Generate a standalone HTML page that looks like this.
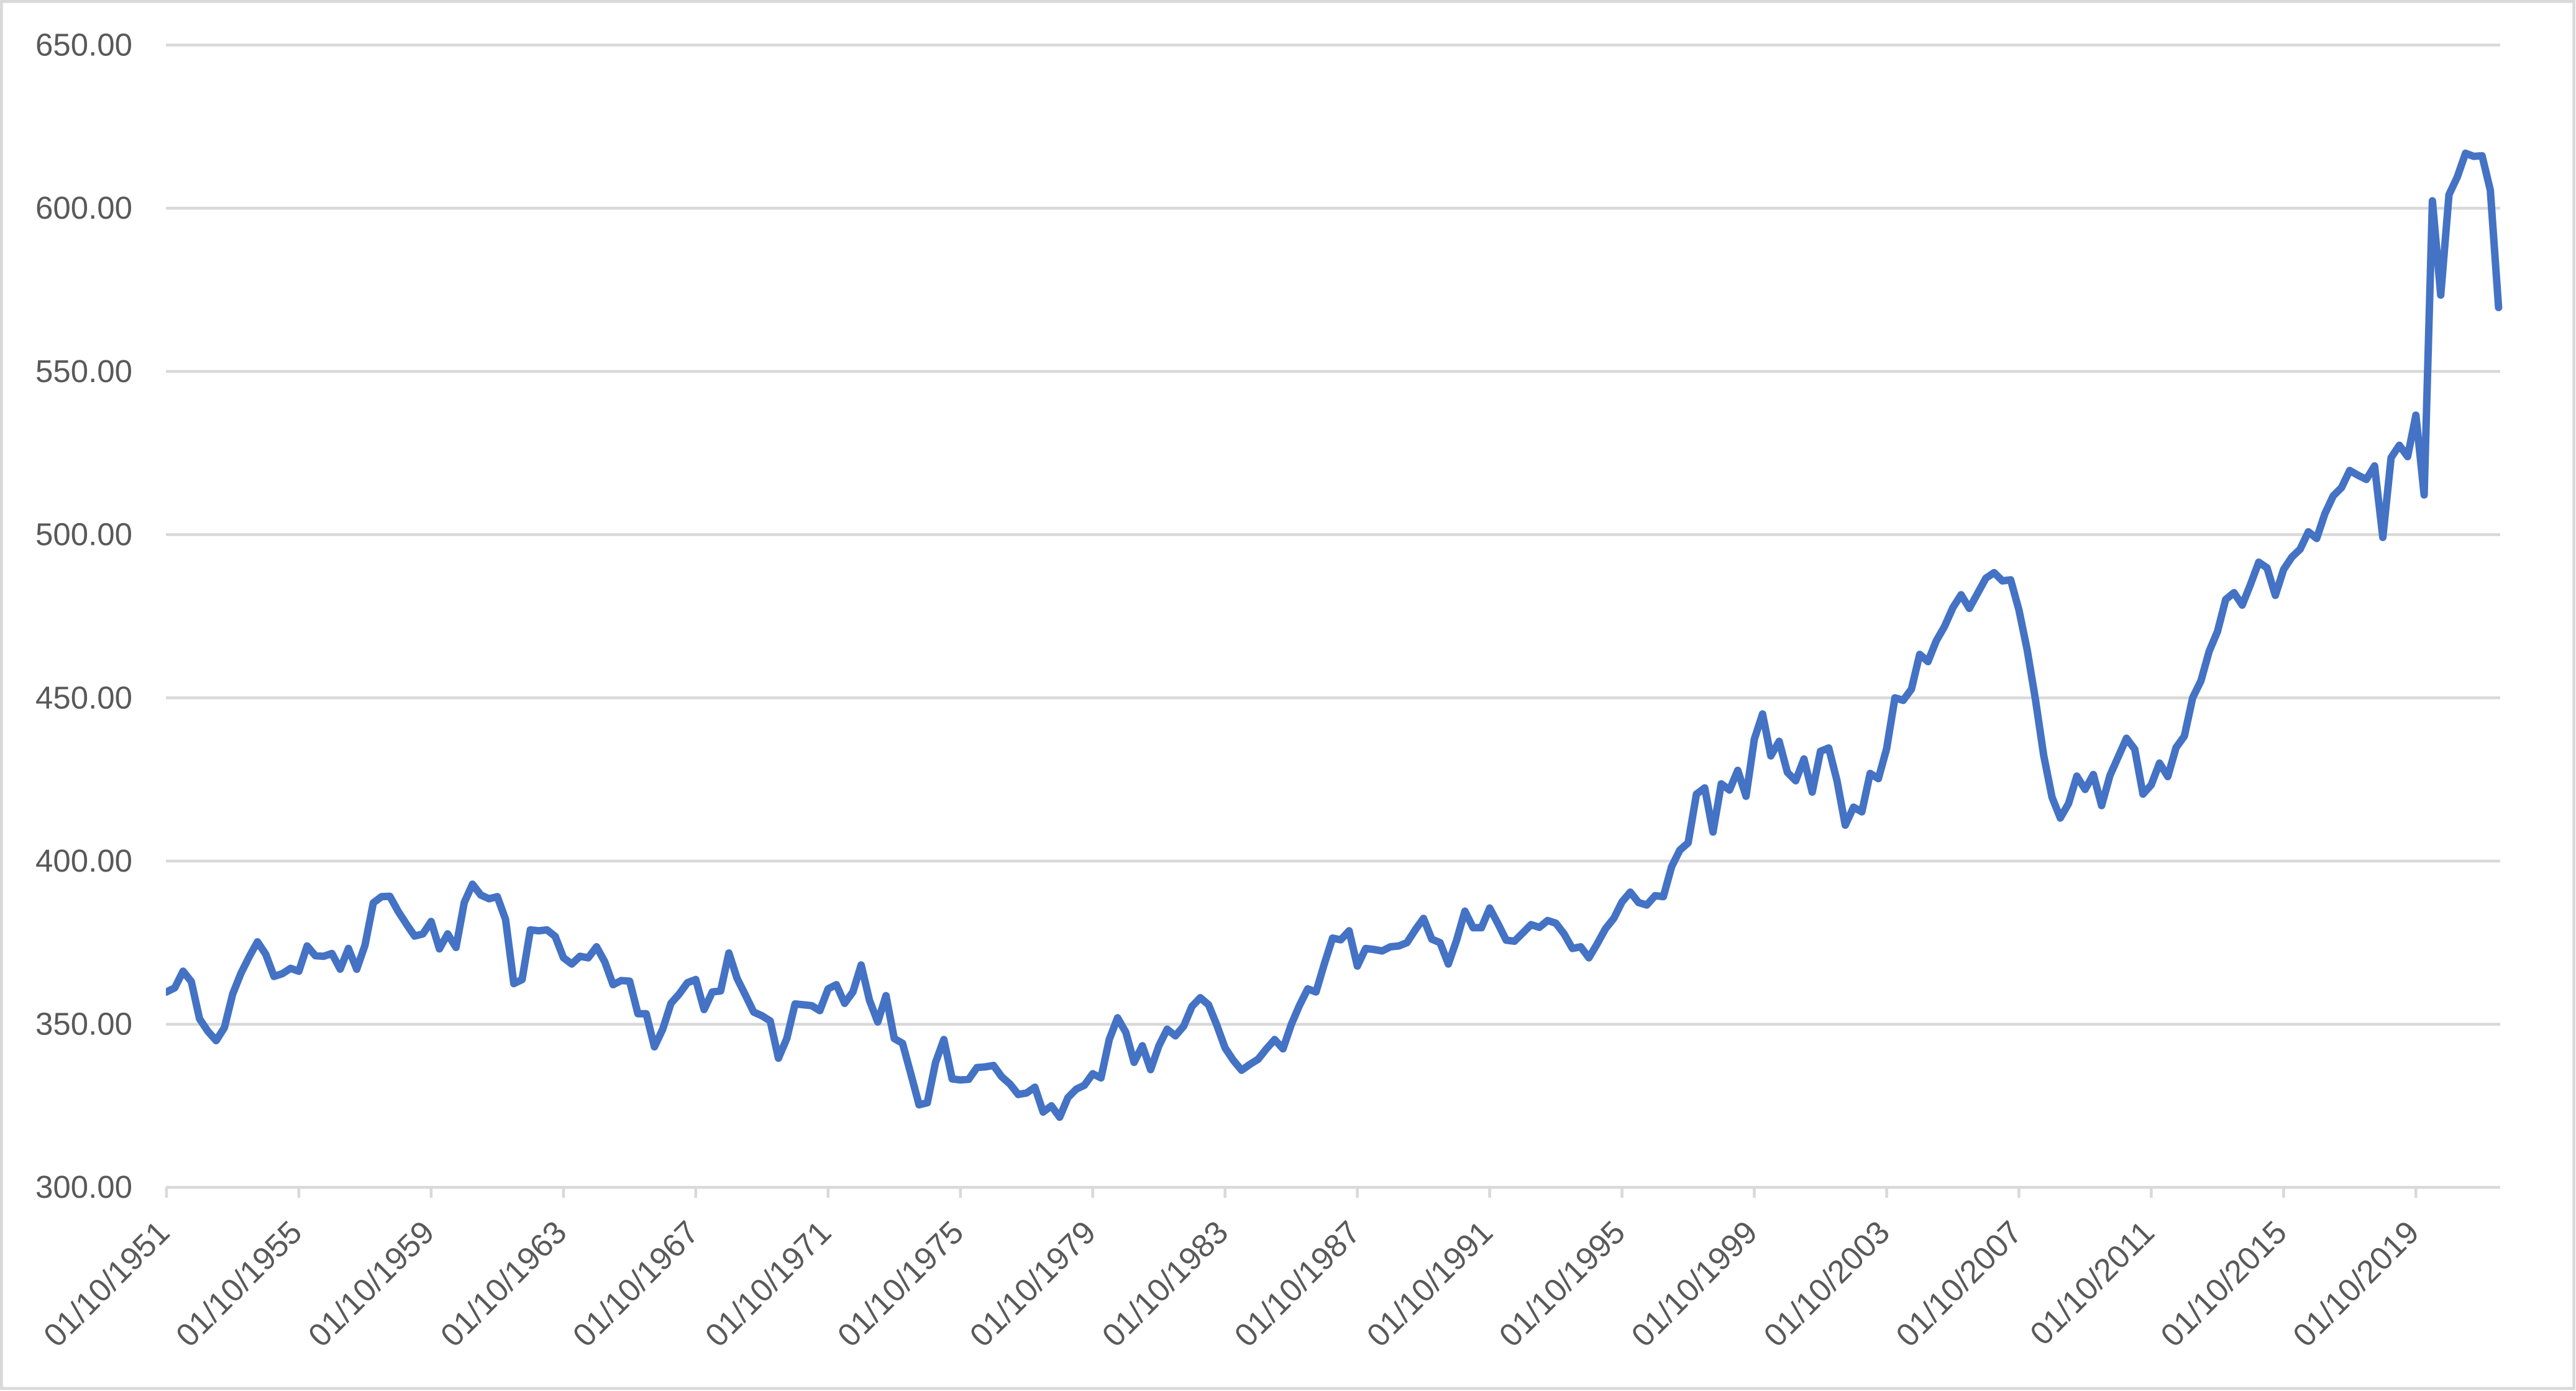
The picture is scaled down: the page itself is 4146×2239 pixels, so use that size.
<!DOCTYPE html>
<html>
<head>
<meta charset="utf-8">
<style>
html,body{margin:0;padding:0;background:#fff;}
svg{display:block;}
text{font-family:"Liberation Sans",Arial,sans-serif;fill:#595959;}
</style>
</head>
<body>
<svg width="4146" height="2239" viewBox="0 0 4146 2239" xmlns="http://www.w3.org/2000/svg">
<rect x="0" y="0" width="4146" height="2239" fill="#ffffff"/>
<rect x="2.35" y="2.35" width="4140.3" height="2232.6" fill="none" stroke="#d9d9d9" stroke-width="4.7"/>
<defs>
<clipPath id="pc"><rect x="267" y="0" width="3800" height="2239"/></clipPath>
</defs>
<g stroke="#d9d9d9" stroke-width="4.6" fill="none">
<line x1="267" y1="72.5" x2="4024" y2="72.5"/>
<line x1="267" y1="335.2" x2="4024" y2="335.2"/>
<line x1="267" y1="597.9" x2="4024" y2="597.9"/>
<line x1="267" y1="860.6" x2="4024" y2="860.6"/>
<line x1="267" y1="1123.3" x2="4024" y2="1123.3"/>
<line x1="267" y1="1386" x2="4024" y2="1386"/>
<line x1="267" y1="1648.7" x2="4024" y2="1648.7"/>
<line x1="267" y1="1911.2" x2="4024" y2="1911.2"/>
</g>
<g stroke="#d9d9d9" stroke-width="4.6">
<line x1="268" y1="1911" x2="268" y2="1928"/>
<line x1="481" y1="1911" x2="481" y2="1928"/>
<line x1="693.9" y1="1911" x2="693.9" y2="1928"/>
<line x1="906.9" y1="1911" x2="906.9" y2="1928"/>
<line x1="1119.8" y1="1911" x2="1119.8" y2="1928"/>
<line x1="1332.8" y1="1911" x2="1332.8" y2="1928"/>
<line x1="1545.8" y1="1911" x2="1545.8" y2="1928"/>
<line x1="1758.7" y1="1911" x2="1758.7" y2="1928"/>
<line x1="1971.7" y1="1911" x2="1971.7" y2="1928"/>
<line x1="2184.6" y1="1911" x2="2184.6" y2="1928"/>
<line x1="2397.6" y1="1911" x2="2397.6" y2="1928"/>
<line x1="2610.6" y1="1911" x2="2610.6" y2="1928"/>
<line x1="2823.5" y1="1911" x2="2823.5" y2="1928"/>
<line x1="3036.5" y1="1911" x2="3036.5" y2="1928"/>
<line x1="3249.4" y1="1911" x2="3249.4" y2="1928"/>
<line x1="3462.4" y1="1911" x2="3462.4" y2="1928"/>
<line x1="3675.4" y1="1911" x2="3675.4" y2="1928"/>
<line x1="3888.3" y1="1911" x2="3888.3" y2="1928"/>
</g>
<g font-size="51" text-anchor="end">
<text x="213" y="89.5">650.00</text>
<text x="213" y="352.2">600.00</text>
<text x="213" y="614.9">550.00</text>
<text x="213" y="877.6">500.00</text>
<text x="213" y="1140.3">450.00</text>
<text x="213" y="1403">400.00</text>
<text x="213" y="1665.7">350.00</text>
<text x="213" y="1928.2">300.00</text>
</g>
<g font-size="52" text-anchor="end">
<text transform="translate(276,1987) rotate(-45)">01/10/1951</text>
<text transform="translate(489,1987) rotate(-45)">01/10/1955</text>
<text transform="translate(701.9,1987) rotate(-45)">01/10/1959</text>
<text transform="translate(914.9,1987) rotate(-45)">01/10/1963</text>
<text transform="translate(1127.8,1987) rotate(-45)">01/10/1967</text>
<text transform="translate(1340.8,1987) rotate(-45)">01/10/1971</text>
<text transform="translate(1553.8,1987) rotate(-45)">01/10/1975</text>
<text transform="translate(1766.7,1987) rotate(-45)">01/10/1979</text>
<text transform="translate(1979.7,1987) rotate(-45)">01/10/1983</text>
<text transform="translate(2192.6,1987) rotate(-45)">01/10/1987</text>
<text transform="translate(2405.6,1987) rotate(-45)">01/10/1991</text>
<text transform="translate(2618.6,1987) rotate(-45)">01/10/1995</text>
<text transform="translate(2831.5,1987) rotate(-45)">01/10/1999</text>
<text transform="translate(3044.5,1987) rotate(-45)">01/10/2003</text>
<text transform="translate(3257.4,1987) rotate(-45)">01/10/2007</text>
<text transform="translate(3470.4,1987) rotate(-45)">01/10/2011</text>
<text transform="translate(3683.4,1987) rotate(-45)">01/10/2015</text>
<text transform="translate(3896.3,1987) rotate(-45)">01/10/2019</text>
</g>
<polyline clip-path="url(#pc)" fill="none" stroke="#4472c4" stroke-width="12" stroke-linejoin="round" stroke-linecap="round" points="
268,1596.7 281.3,1590 294.6,1563.3 307.9,1580 321.2,1640 334.6,1660 347.9,1675 361.2,1654 374.5,1600 387.8,1566.7
401.1,1540 414.4,1516 427.7,1536 441,1571.7 454.3,1567.3 467.7,1558.7 481,1563.3 494.3,1522.7 507.6,1538.3 520.9,1539.3
534.2,1534.7 547.5,1560 560.8,1526.7 574.1,1560 587.4,1521.7 600.8,1453.3 614.1,1443.3 627.4,1442.7 640.7,1466.7 654,1487.3
667.3,1506.7 680.6,1503.3 693.9,1483.3 707.2,1527.3 720.5,1503.3 733.9,1525 747.2,1452.7 760.5,1423.3 773.8,1440.7 787.1,1446.7
800.4,1443.3 813.7,1480 827,1583.3 840.3,1576.7 853.6,1496.7 867,1498.3 880.3,1496.7 893.6,1507.3 906.9,1541.7 920.2,1551.7
933.5,1539.3 946.8,1541.7 960.1,1524 973.4,1548.3 986.7,1585 1000.1,1578.3 1013.4,1579.3 1026.7,1631.7 1040,1631.7 1053.3,1685
1066.6,1656.7 1079.9,1615 1093.2,1600 1106.5,1581.7 1119.8,1576.7 1133.2,1625 1146.5,1596.7 1159.8,1595 1173.1,1534 1186.4,1575
1199.7,1601.7 1213,1629 1226.3,1635 1239.6,1643.3 1252.9,1703.3 1266.3,1671.7 1279.6,1616 1292.9,1617.3 1306.2,1618.7 1319.5,1626.7
1332.8,1591.7 1346.1,1585 1359.4,1615 1372.7,1596.7 1386,1553.3 1399.4,1610 1412.7,1645 1426,1602.7 1439.3,1671.7 1452.6,1679.3
1465.9,1728.3 1479.2,1778.3 1492.5,1775 1505.8,1710 1519.1,1673.3 1532.5,1736.7 1545.8,1738.3 1559.1,1737.3 1572.4,1718.3 1585.7,1717.3
1599,1715 1612.3,1733.3 1625.6,1745 1638.9,1761.7 1652.2,1759.3 1665.6,1750 1678.9,1790 1692.2,1780 1705.5,1798.3 1718.8,1766.7
1732.1,1753.3 1745.4,1746.7 1758.7,1728.3 1772,1735 1785.3,1673.3 1798.7,1638.3 1812,1661.7 1825.3,1710 1838.6,1683.3 1851.9,1721.7
1865.2,1683.3 1878.5,1656.7 1891.8,1667.3 1905.1,1651.7 1918.4,1620 1931.8,1606 1945.1,1617.3 1958.4,1650 1971.7,1686.7 1985,1706.7
1998.3,1722.7 2011.6,1713.3 2024.9,1705 2038.2,1688.3 2051.5,1673.3 2064.9,1688.3 2078.2,1649.3 2091.5,1618.3 2104.8,1591.7 2118.1,1596.7
2131.4,1551.7 2144.7,1510 2158,1512.7 2171.3,1498.3 2184.6,1555 2198,1526.7 2211.3,1528.3 2224.6,1530.7 2237.9,1524 2251.2,1522.7
2264.5,1517.3 2277.8,1496.7 2291.1,1478.3 2304.4,1511.7 2317.7,1517.3 2331.1,1551.7 2344.4,1513.3 2357.7,1466.7 2371,1493.3 2384.3,1493.3
2397.6,1461.7 2410.9,1486.7 2424.2,1513.3 2437.5,1515 2450.8,1501.7 2464.2,1488.3 2477.5,1492.7 2490.8,1481.7 2504.1,1486 2517.4,1503.3
2530.7,1526.7 2544,1524 2557.3,1541.7 2570.6,1519.3 2583.9,1495 2597.3,1478.3 2610.6,1451.7 2623.9,1436 2637.2,1452.7 2650.5,1456.7
2663.8,1441.7 2677.1,1443.3 2690.4,1395 2703.7,1368.3 2717,1356.7 2730.4,1278.3 2743.7,1268.3 2757,1339.3 2770.3,1261.7 2783.6,1271.7
2796.9,1240 2810.2,1281.7 2823.5,1190 2836.8,1149.3 2850.1,1216.7 2863.5,1193.3 2876.8,1243.3 2890.1,1256.7 2903.4,1221.7 2916.7,1275
2930,1209.3 2943.3,1204 2956.6,1256.7 2969.9,1328.3 2983.2,1299.3 2996.6,1306.7 3009.9,1245 3023.2,1253.3 3036.5,1205 3049.8,1123.3
3063.1,1127.3 3076.4,1109.3 3089.7,1053.3 3103,1065 3116.3,1031.7 3129.7,1008.3 3143,978.3 3156.3,957.3 3169.6,979.3 3182.9,955
3196.2,930.7 3209.5,921.7 3222.8,935 3236.1,933.3 3249.4,981.7 3262.8,1046.7 3276.1,1126.7 3289.4,1216.7 3302.7,1283.3 3316,1316.7
3329.3,1293.3 3342.6,1249.3 3355.9,1270.7 3369.2,1246.7 3382.5,1296.7 3395.9,1248.3 3409.2,1218.3 3422.5,1188.3 3435.8,1206 3449.1,1278.3
3462.4,1263.3 3475.7,1228.3 3489,1250 3502.3,1203.3 3515.6,1185 3529,1123.3 3542.3,1096 3555.6,1048.3 3568.9,1016.7 3582.2,965
3595.5,954 3608.8,974 3622.1,940.7 3635.4,905 3648.7,914 3662.1,958.3 3675.4,916.7 3688.7,896.7 3702,884 3715.3,856
3728.6,866.7 3741.9,826.7 3755.2,798.3 3768.5,785 3781.8,757.3 3795.2,765 3808.5,771.7 3821.8,750 3835.1,865 3848.4,736.7
3861.7,716.7 3875,735 3888.3,668.3 3901.6,796.7 3914.9,323.3 3928.3,475 3941.6,313.3 3954.9,285 3968.2,246.7 3981.5,251.7
3994.8,250.7 4008.1,306 4021.4,495"/>
</svg>
</body>
</html>
